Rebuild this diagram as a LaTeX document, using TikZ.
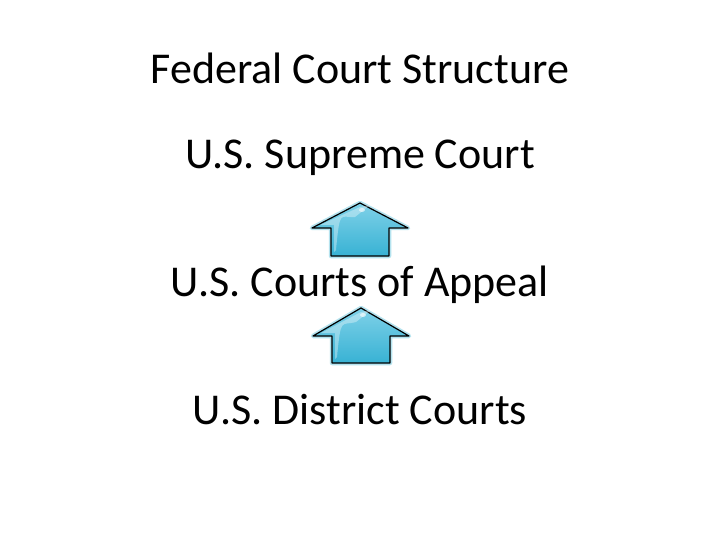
\documentclass[tikz,border=0pt]{standalone}
\usepackage{fontspec}
\setmainfont{Carlito}
\definecolor{arrfill}{HTML}{38B2D4}
\definecolor{arrlight}{HTML}{7FD1E8}
\definecolor{arrglow}{HTML}{B5E3EF}
\tikzset{
  lbl/.style={font=\fontsize{44}{52}\selectfont, inner sep=0pt, anchor=center},
  upar/.style={draw=black, line width=1.2pt, line join=round, top color=arrlight, bottom color=arrfill},
  glow/.style={draw=arrglow, line width=4.5pt, line join=round}
}
\newcommand{\uparrowshape}[5]{% x0 ytip ywing ybot name
  \path[glow] (#1,-#2) -- (#1+48,-#3) -- (#1+29,-#3) -- (#1+29,-#4) -- (#1-29,-#4) -- (#1-29,-#3) -- (#1-48,-#3) -- cycle;
  \path[upar] (#1,-#2) -- (#1+48,-#3) -- (#1+29,-#3) -- (#1+29,-#4) -- (#1-29,-#4) -- (#1-29,-#3) -- (#1-48,-#3) -- cycle;
  \fill[white, opacity=0.35] (#1-40,-#3+3) -- (#1,-#2-4) -- (#1+10,-#2-2) -- (#1-5,-#2-14) .. controls (#1-20,-#3+10) and (#1-20,-#3+20) .. (#1-24,-#4+6) -- (#1-26,-#4+4) -- (#1-26,-#3+3) -- cycle;
  \fill[white, opacity=0.6] (#1+2,-#2-7) ellipse (3pt and 2pt);
  \coordinate (#5) at (#1,-#2);
}
\begin{document}
\begin{tikzpicture}[x=1pt,y=1pt]
\useasboundingbox (0,0) rectangle (720,-540);
\fill[white] (0,0) rectangle (720,-540);
\node[lbl] (title) at (360,-68) {Federal Court Structure};
\node[lbl] (supreme) at (360,-158) {U.S. Supreme Court};
\node[lbl] (appeal) at (360,-285) {U.S. Courts of Appeal};
\node[lbl] (district) at (360,-410) {U.S. District Courts};
\uparrowshape{360}{203}{228}{256}{a1}
\uparrowshape{361}{308}{336}{363}{a2}
\end{tikzpicture}
\end{document}
